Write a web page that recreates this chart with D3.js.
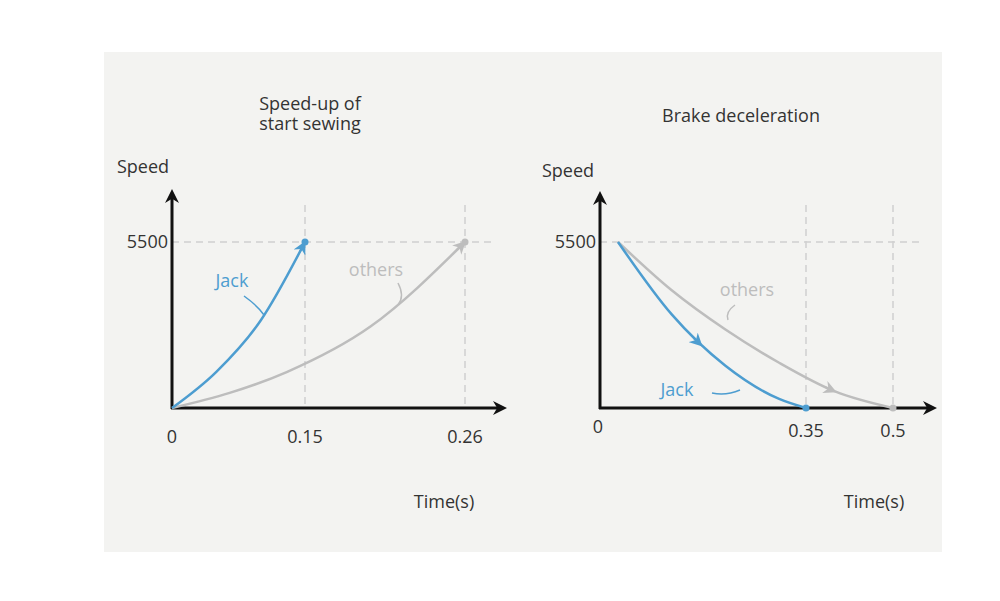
<!DOCTYPE html>
<html><head><meta charset="utf-8">
<script src="https://cdn.jsdelivr.net/npm/d3@7"></script>
<style>body{margin:0;background:#fff}text{font-family:"Open Sans","DejaVu Sans",sans-serif}</style>
</head><body>
<script>
const width = 1000, height = 601;
const maxSpeed = 5500;

// left chart: start sewing
const upTicks = [0, 0.15, 0.26];
const upJackT = [0, 0.05, 0.10, 0.15];
const upJackV = [0, 1200, 2900, 5500];
const upOthersT = [0, 0.065, 0.13, 0.195, 0.26];
const upOthersV = [0, 500, 1200, 2700, 5500];

// right chart: brake deceleration
const brTicks = [0, 0.35, 0.5];
const brJackT = [0, 0.1, 0.2, 0.3, 0.35];
const brJackV = [5500, 3100, 1400, 300, 0];
const brOthersT = [0, 0.1, 0.2, 0.3, 0.4, 0.5];
const brOthersV = [5500, 3900, 2600, 1500, 550, 0];

const blue = "#4d9dd0", gray = "#bdbdbd", grid = "#cfcfcf";

const svg = d3.select("body").append("svg").attr("width", width).attr("height", height);
const defs = svg.append("defs");
function marker(id, color, size) {
  defs.append("marker").attr("id", id).attr("viewBox", "0 0 10 10").attr("refX", 5).attr("refY", 5)
    .attr("markerWidth", size).attr("markerHeight", size).attr("orient", "auto").attr("markerUnits", "userSpaceOnUse")
    .append("path").attr("d", "M0,0L10,5L0,10L3,5Z").attr("fill", color);
}
marker("ax", "#111", 14); marker("ab", blue, 13); marker("ag", gray, 13);

svg.append("rect").attr("x", 104).attr("y", 52).attr("width", 838).attr("height", 500).attr("fill", "#f3f3f1");

function chart(o) {
  const x = d3.scaleLinear().domain(o.ticks).range(o.xr);
  const y = d3.scaleLinear().domain([0, maxSpeed]).range([408, 242]);
  const g = svg.append("g");
  // dashed guides
  g.append("line").attr("x1", o.ax).attr("x2", o.gridEnd).attr("y1", y(maxSpeed)).attr("y2", y(maxSpeed))
    .attr("stroke", grid).attr("stroke-width", 1.5).attr("stroke-dasharray", "7,5");
  o.vlines.forEach(t => g.append("line").attr("x1", x(t)).attr("x2", x(t)).attr("y1", 205).attr("y2", 408)
    .attr("stroke", grid).attr("stroke-width", 1.5).attr("stroke-dasharray", "7,5"));
  // axes
  g.append("line").attr("x1", o.ax).attr("x2", o.ax).attr("y1", 409).attr("y2", o.yTop)
    .attr("stroke", "#111").attr("stroke-width", 3).attr("marker-end", "url(#ax)");
  g.append("line").attr("x1", o.ax - 1).attr("x2", o.xEnd).attr("y1", 408).attr("y2", 408)
    .attr("stroke", "#111").attr("stroke-width", 3).attr("marker-end", "url(#ax)");
  // curves
  const line = d3.line().x(d => x(d[0])).y(d => y(d[1])).curve(d3.curveMonotoneX);
  o.series.forEach(s => {
    const pts = s.t.map((t, i) => [t, s.v[i]]);
    const p = g.append("path").attr("d", line(pts)).attr("fill", "none").attr("stroke", s.color).attr("stroke-width", 2.5);
    const node = p.node(), L = node.getTotalLength();
    const a = node.getPointAtLength(L * s.arrowAt - 6), b = node.getPointAtLength(L * s.arrowAt);
    g.append("line").attr("x1", a.x).attr("y1", a.y).attr("x2", b.x).attr("y2", b.y)
      .attr("stroke", s.color).attr("stroke-width", 2).attr("marker-end", `url(#${s.marker})`);
    const e = pts[pts.length - 1];
    g.append("circle").attr("cx", x(e[0])).attr("cy", y(e[1])).attr("r", 3.5).attr("fill", s.color);
    g.append("text").attr("x", s.lx).attr("y", s.ly).attr("fill", s.color).attr("font-size", 18).attr("text-anchor", "middle").text(s.name);
    g.append("path").attr("d", s.callout).attr("fill", "none").attr("stroke", s.color).attr("stroke-width", 1.5);
  });
  // labels
  o.tickLabels.forEach(d => g.append("text").attr("x", d.x).attr("y", d.y).attr("font-size", 18)
    .attr("fill", "#333").attr("text-anchor", "middle").text(d.t));
  g.append("text").attr("x", o.ax - 4).attr("y", y(maxSpeed) + 6).attr("font-size", 18).attr("fill", "#333")
    .attr("text-anchor", "end").text("5500");
  g.append("text").attr("x", o.speedX).attr("y", o.speedY).attr("font-size", 18).attr("fill", "#333").attr("text-anchor", "middle").text("Speed");
  g.append("text").attr("x", o.timeX).attr("y", 508).attr("font-size", 18).attr("fill", "#333").attr("text-anchor", "middle").text("Time(s)");
  o.title.forEach((t, i) => g.append("text").attr("x", o.titleX).attr("y", o.titleY + i * 20)
    .attr("font-size", 18).attr("fill", "#333").attr("text-anchor", "middle").text(t));
  return x;
}

chart({
  ticks: upTicks, xr: [172, 305, 465], ax: 172, yTop: 196, xEnd: 500, gridEnd: 495,
  vlines: [0.15, 0.26],
  series: [
    {t: upOthersT, v: upOthersV, color: gray, marker: "ag", arrowAt: 0.985, name: "others", lx: 376, ly: 276, callout: "M398,283 Q405,296 398,305"},
    {t: upJackT, v: upJackV, color: blue, marker: "ab", arrowAt: 0.975, name: "Jack", lx: 232, ly: 287, callout: "M244,296 Q258,306 264,315"}
  ],
  tickLabels: [{x: 172, y: 443, t: "0"}, {x: 305, y: 443, t: "0.15"}, {x: 465, y: 443, t: "0.26"}],
  speedX: 143, speedY: 173, timeX: 444, title: ["Speed-up of", "start sewing"], titleX: 310, titleY: 110
});

chart({
  ticks: brTicks, xr: [618, 806, 893], ax: 600, yTop: 198, xEnd: 930, gridEnd: 920,
  vlines: [0.35, 0.5],
  series: [
    {t: brOthersT, v: brOthersV, color: gray, marker: "ag", arrowAt: 0.8, name: "others", lx: 747, ly: 296, callout: "M735,305 Q725,312 728,320"},
    {t: brJackT, v: brJackV, color: blue, marker: "ab", arrowAt: 0.5, name: "Jack", lx: 677, ly: 396, callout: "M712,393 Q726,396 740,390"}
  ],
  tickLabels: [{x: 598, y: 433, t: "0"}, {x: 806, y: 437, t: "0.35"}, {x: 893, y: 437, t: "0.5"}],
  speedX: 568, speedY: 177, timeX: 874, title: ["Brake deceleration"], titleX: 741, titleY: 122
});
</script>
</body></html>
